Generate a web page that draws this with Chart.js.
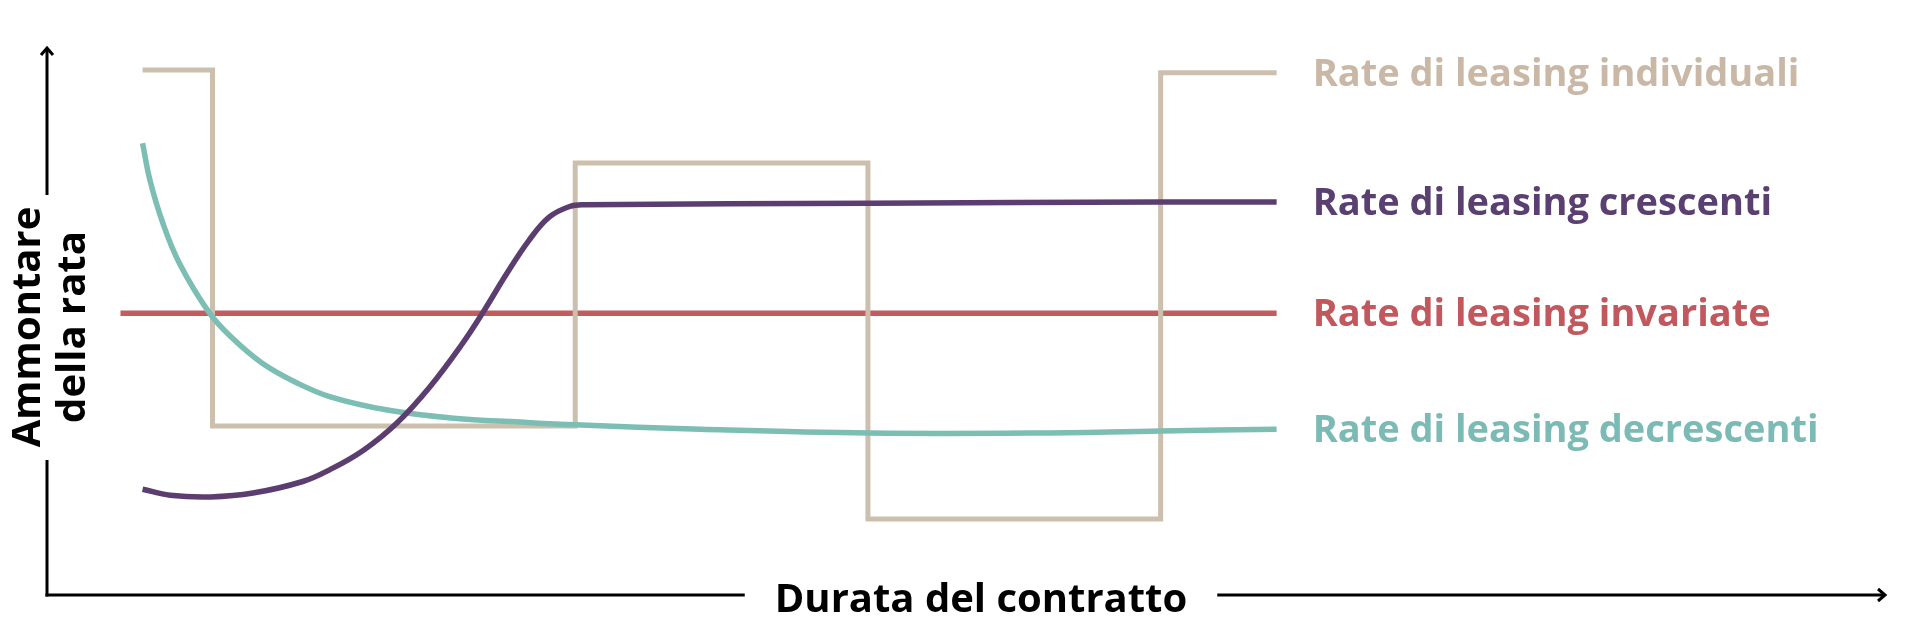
<!DOCTYPE html>
<html>
<head>
<meta charset="utf-8">
<style>
  html, body { margin: 0; padding: 0; background: #fff; }
  #wrap { width: 1920px; height: 640px; }
</style>
<script src="https://cdn.jsdelivr.net/npm/chart.js@4/dist/chart.umd.min.js"></script>
</head>
<body>
<div id="wrap"><canvas id="chart" width="1920" height="640"></canvas></div>
<script>
// x: contract duration (0-100), y: instalment amount (0-100)
const individualiX = [5.3, 9.1, 28.8, 44.7, 60.6, 66.9]
const individualiY = [95.8, 31.1, 78.9, 14.2, 95.3, 95.3]

const crescentiX = [5.3, 6.8, 9.0, 11.3, 14.0, 15.5, 17.3, 19.1, 20.9, 22.7, 23.8, 25.1, 26.3, 27.4, 28.5, 29.3, 44.8, 60.6, 66.9]
const crescentiY = [19.6, 18.5, 18.2, 18.9, 21.0, 23.2, 26.7, 31.6, 38.2, 46.2, 51.8, 58.9, 64.9, 69.1, 71.0, 71.3, 71.6, 71.8, 71.8]

const invariateX = [4.1, 66.9]
const invariateY = [51.6, 51.6]

const decrescentiX = [5.3, 5.7, 6.4, 7.3, 8.9, 10.1, 11.8, 13.7, 15.5, 18.6, 22.2, 25.8, 28.8, 35.6, 44.8, 53.6, 60.6, 66.9]
const decrescentiY = [82.5, 75.8, 68.0, 60.7, 51.8, 47.3, 42.5, 38.9, 36.4, 34.0, 32.5, 31.8, 31.3, 30.5, 29.8, 29.8, 30.2, 30.5]

const seriesLabels = ['Rate di leasing crescenti', 'Rate di leasing decrescenti', 'Rate di leasing individuali', 'Rate di leasing invariate']
const yTitle = ['Ammontare', 'della rata']
const xTitle = 'Durata del contratto'

const points = (xs, ys) => xs.map((x, i) => ({ x: x, y: ys[i] }))

const labelFont = "bold 38px 'Open Sans'"
const titleFont = "bold 40px 'Open Sans'"

const decor = {
  id: 'decor',
  afterDraw(chart) {
    const ctx = chart.ctx
    const area = chart.chartArea
    const ax = area.left + 2
    const ay = area.bottom - 2
    ctx.save()
    ctx.strokeStyle = '#000'
    ctx.fillStyle = '#000'
    ctx.lineWidth = 3
    ctx.lineCap = 'butt'

    // y axis with gap for title
    ctx.beginPath()
    ctx.moveTo(ax, ay + 1.5)
    ctx.lineTo(ax, 460)
    ctx.moveTo(ax, 195)
    ctx.lineTo(ax, area.top + 1)
    ctx.stroke()
    ctx.beginPath()
    ctx.moveTo(ax - 6, area.top + 8)
    ctx.lineTo(ax, area.top + 1)
    ctx.lineTo(ax + 6, area.top + 8)
    ctx.stroke()

    // x axis with gap for title
    ctx.font = titleFont
    const cx = 981
    const half = ctx.measureText(xTitle).width / 2 + 30
    ctx.beginPath()
    ctx.moveTo(ax - 1.5, ay)
    ctx.lineTo(cx - half, ay)
    ctx.moveTo(cx + half, ay)
    ctx.lineTo(area.right - 1, ay)
    ctx.stroke()
    ctx.beginPath()
    ctx.moveTo(area.right - 8, ay - 6)
    ctx.lineTo(area.right - 1, ay)
    ctx.lineTo(area.right - 8, ay + 6)
    ctx.stroke()

    ctx.textAlign = 'center'
    ctx.textBaseline = 'alphabetic'
    ctx.fillText(xTitle, cx, 612)

    // rotated y title
    ctx.save()
    ctx.translate(40, 327)
    ctx.rotate(-Math.PI / 2)
    ctx.fillText(yTitle[0], 0, 0)
    ctx.restore()
    ctx.save()
    ctx.translate(85, 327)
    ctx.rotate(-Math.PI / 2)
    ctx.fillText(yTitle[1], 0, 0)
    ctx.restore()

    // labels at the end of each line
    ctx.font = labelFont
    ctx.textAlign = 'left'
    chart.data.datasets.forEach((ds, i) => {
      const meta = chart.getDatasetMeta(i)
      const last = meta.data[meta.data.length - 1]
      ctx.fillStyle = ds.textColor
      ctx.fillText(ds.label, last.x + 36, last.y + 13)
    })
    ctx.restore()
  }
}

new Chart(document.getElementById('chart'), {
  type: 'line',
  data: {
    datasets: [
      {
        label: seriesLabels[0],
        data: points(crescentiX, crescentiY),
        borderColor: '#5b3e6f',
        textColor: '#5a4070',
        borderWidth: 5.5,
        tension: 0.4
      },
      {
        label: seriesLabels[1],
        data: points(decrescentiX, decrescentiY),
        borderColor: '#7cbdb4',
        textColor: '#7bbab5',
        borderWidth: 5.5,
        tension: 0.4
      },
      {
        label: seriesLabels[2],
        data: points(individualiX, individualiY),
        borderColor: '#cdbfae',
        textColor: '#c9b8a5',
        borderWidth: 5,
        stepped: true,
        borderJoinStyle: 'miter'
      },
      {
        label: seriesLabels[3],
        data: points(invariateX, invariateY),
        borderColor: '#c25c5f',
        textColor: '#c0585d',
        borderWidth: 5.5
      }
    ]
  },
  options: {
    responsive: false,
    maintainAspectRatio: false,
    animation: false,
    devicePixelRatio: 1,
    events: [],
    layout: {
      padding: { left: 45, right: 34, top: 47, bottom: 43 }
    },
    elements: {
      point: { radius: 0 },
      line: { borderCapStyle: 'butt', fill: false }
    },
    plugins: {
      legend: { display: false },
      tooltip: { enabled: false }
    },
    scales: {
      x: { type: 'linear', min: 0, max: 100, display: false },
      y: { type: 'linear', min: 0, max: 100, display: false }
    }
  },
  plugins: [decor]
})
</script>
</body>
</html>
